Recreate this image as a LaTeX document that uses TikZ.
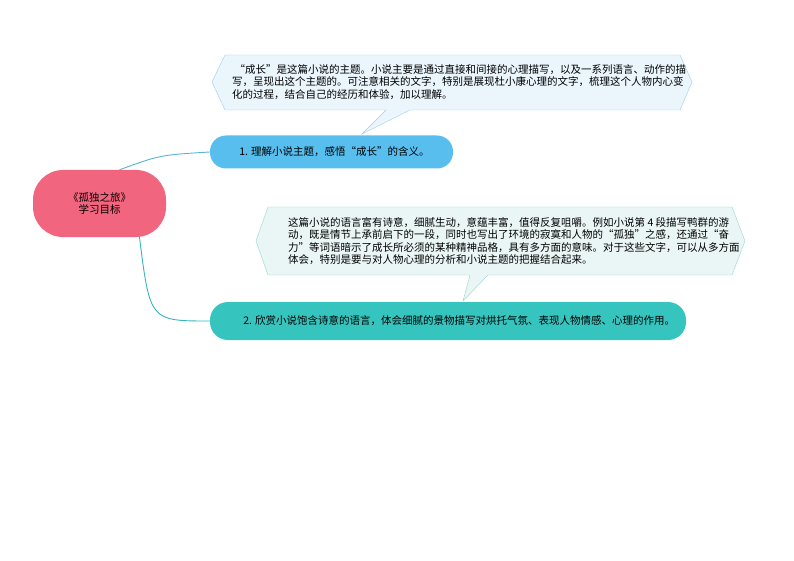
\documentclass[tikz,border=0pt]{standalone}
\usepackage{fontspec}
\setmainfont{Noto Sans CJK SC}
\definecolor{rootc}{RGB}{242,101,126}
\definecolor{n1c}{RGB}{87,190,238}
\definecolor{n2c}{RGB}{54,196,190}
\definecolor{l1c}{RGB}{87,180,210}
\definecolor{l2c}{RGB}{54,180,190}
\definecolor{c1f}{RGB}{234,245,252}
\definecolor{c1d}{RGB}{156,207,232}
\definecolor{c2f}{RGB}{234,246,245}
\definecolor{c2d}{RGB}{150,215,210}
\begin{document}
\begin{tikzpicture}[x=1pt,y=-1pt,
 pill/.style={inner sep=0pt},
 txt/.style={font=\fontsize{10.5}{12.5}\selectfont,align=left,anchor=west,inner sep=0pt},
 link/.style={draw=#1,line width=0.9pt}]
\useasboundingbox (0,0) rectangle (794,561);
% callout 1
\draw[fill=c1f,draw=c1d] (212,82)--(225,55)--(680,55)--(692,82)--(680,110)--(410,110)--(362,134)--(386,110)--(225,110)--cycle;
\node[txt] (c1) at (232,82) {\ “成长”是这篇小说的主题。小说主要是通过直接和间接的心理描写，以及一系列语言、动作的描\\写，呈现出这个主题的。可注意相关的文字，特别是展现杜小康心理的文字，梳理这个人物内心变\\化的过程，结合自己的经历和体验，加以理解。};
% callout 2
\draw[fill=c2f,draw=c2d] (256,241)--(268,207)--(732,207)--(745,241)--(732,275)--(488,275)--(463,301)--(470,275)--(268,275)--cycle;
\node[txt] (c2) at (288,241) {这篇小说的语言富有诗意，细腻生动，意蕴丰富，值得反复咀嚼。例如小说第 4 段描写鸭群的游\\动，既是情节上承前启下的一段，同时也写出了环境的寂寞和人物的“孤独”之感，还通过“奋\\力”等词语暗示了成长所必须的某种精神品格，具有多方面的意味。对于这些文字，可以从多方面\\体会，特别是要与对人物心理的分析和小说主题的把握结合起来。};
% nodes
\node[pill,fill=rootc,minimum width=133pt,minimum height=67pt,rounded corners=30pt,align=center,font=\fontsize{10.5}{12}\selectfont] (root) at (99.5,203.5) {《孤独之旅》\\学习目标};
\node[pill,fill=n1c,minimum width=243pt,minimum height=33pt,rounded corners=16pt] (n1) at (331.5,152) {};
\node[font=\fontsize{10.5}{12}\selectfont,anchor=west] (t1) at (n1.west) [xshift=26pt] {1. 理解小说主题，感悟“成长”的含义。};
\node[pill,fill=n2c,minimum width=476pt,minimum height=38pt,rounded corners=18pt] (n2) at (448,321) {};
\node[font=\fontsize{10.5}{12}\selectfont,anchor=west] (t2) at (n2.west) [xshift=30pt] {2. 欣赏小说饱含诗意的语言，体会细腻的景物描写对烘托气氛、表现人物情感、心理的作用。};
% links
\draw[link=l1c] ([xshift=20pt]root.north) .. controls (160,155) .. (n1.west);
\draw[link=l2c] ([xshift=40pt]root.south) .. controls (150,321) .. (n2.west);
\end{tikzpicture}
\end{document}
